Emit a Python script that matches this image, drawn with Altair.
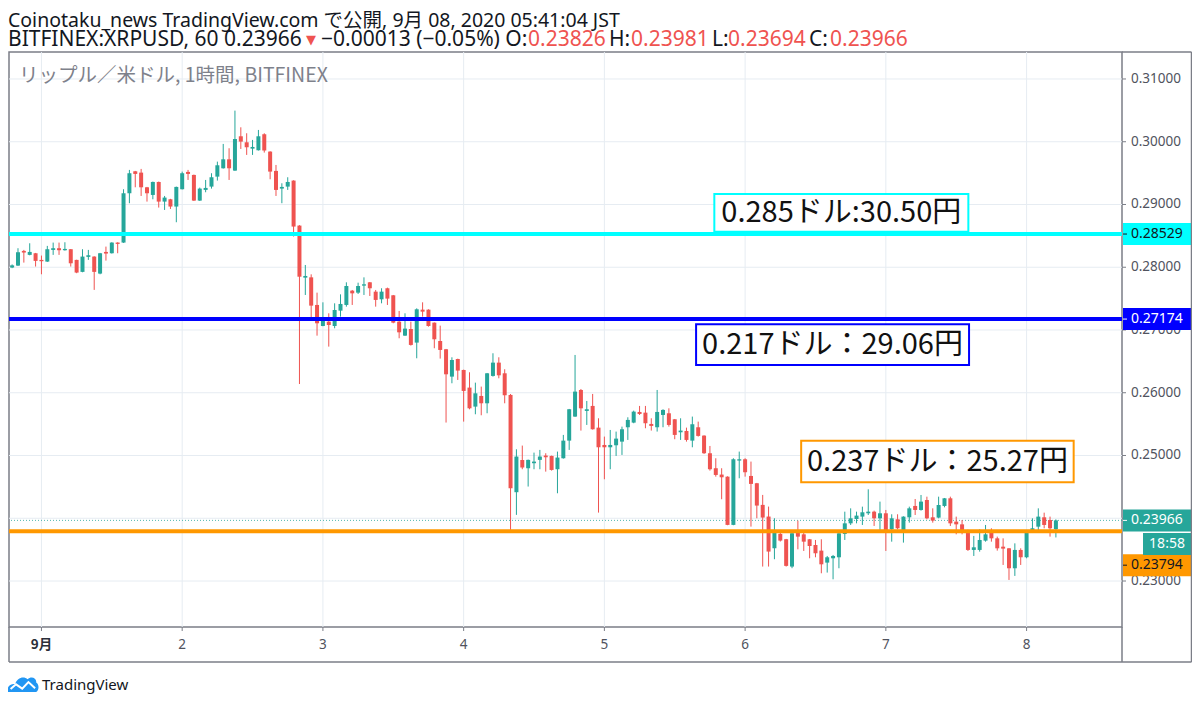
import altair as alt
import pandas as pd

# ---------------- data ----------------
# hourly candles, hours counted from 2020-09-01 00:00 JST
hours = list(range(-5, 174))

opens = [0.27995,0.28026,0.28260,0.28197,0.28223,0.28117,0.28090,0.28276,0.28303,0.28271,
0.28287,0.28117,0.27926,0.28165,0.28170,0.27899,0.28244,0.28223,0.28393,0.28393,
0.29179,0.29529,0.29508,0.29274,0.29152,0.29359,0.29046,0.29083,0.28967,0.29243,
0.29519,0.29471,0.29062,0.29232,0.29285,0.29444,0.29577,0.29720,0.29540,0.30087,
0.29991,0.29890,0.29864,0.30119,0.29843,0.29535,0.29253,0.29285,0.29381,0.28664,
0.27834,0.27839,0.27399,0.27064,0.27133,0.27064,0.27308,0.27399,0.27627,0.27595,
0.27707,0.27760,0.27611,0.27489,0.27665,0.27553,0.27133,0.26910,0.27016,0.26799,
0.27324,0.27324,0.27117,0.26825,0.26693,0.26257,0.26538,0.26363,0.26082,0.25779,
0.25949,0.25832,0.26268,0.26480,0.26310,0.25965,0.24415,0.24930,0.24797,0.24877,
0.24930,0.24999,0.24993,0.24781,0.24956,0.25237,0.25620,0.26044,0.25710,0.25790,
0.25444,0.25168,0.25131,0.25163,0.25221,0.25450,0.25524,0.25694,0.25683,0.25503,
0.25450,0.25646,0.25673,0.25577,0.25370,0.25391,0.25237,0.25450,0.25317,0.25036,
0.24797,0.24696,0.24663,0.23894,0.24919,0.24940,0.24674,0.24558,0.24213,0.24027,
0.23522,0.23751,0.23666,0.23230,0.23797,0.23744,0.23665,0.23574,0.23484,0.23293,
0.23362,0.23378,0.23750,0.23919,0.23988,0.24026,0.24079,0.24105,0.23999,0.24079,
0.23824,0.23983,0.23813,0.24015,0.24196,0.24132,0.24291,0.24015,0.24010,0.24196,
0.24318,0.23946,0.23903,0.23813,0.23495,0.23495,0.23643,0.23787,0.23680,0.23547,
0.23521,0.23203,0.23495,0.23378,0.23813,0.23866,0.24015,0.23972,0.23826]

highs = [0.28045,0.28303,0.28276,0.28382,0.28228,0.28186,0.28340,0.28393,0.28393,0.28398,
0.28290,0.28120,0.28287,0.28276,0.28175,0.28228,0.28329,0.28398,0.28398,0.29243,
0.29551,0.29535,0.29567,0.29280,0.29365,0.29365,0.29136,0.29090,0.29285,0.29524,
0.29551,0.29476,0.29269,0.29391,0.29498,0.29683,0.29965,0.29896,0.30496,0.30230,
0.30135,0.30029,0.30188,0.30135,0.29848,0.29630,0.29338,0.29434,0.29386,0.28670,
0.28036,0.27887,0.27595,0.27441,0.27266,0.27425,0.27568,0.27760,0.27638,0.27754,
0.27839,0.27765,0.27638,0.27665,0.27675,0.27558,0.27303,0.27266,0.27133,0.27345,
0.27441,0.27330,0.27120,0.27069,0.26698,0.26565,0.26543,0.26368,0.26326,0.26161,
0.26098,0.26315,0.26629,0.26565,0.26374,0.25980,0.25099,0.25158,0.24935,0.25046,
0.25089,0.25036,0.24998,0.25062,0.25328,0.25742,0.26602,0.26060,0.25869,0.25981,
0.25593,0.25301,0.25407,0.25381,0.25460,0.25609,0.25715,0.25790,0.25790,0.25593,
0.26044,0.25737,0.25752,0.25582,0.25593,0.25444,0.25620,0.25540,0.25322,0.25152,
0.24956,0.24797,0.24668,0.24956,0.25062,0.24956,0.24903,0.24563,0.24372,0.24186,
0.24000,0.23814,0.23671,0.23788,0.23962,0.23797,0.23670,0.23654,0.23665,0.23399,
0.23415,0.23765,0.24105,0.24158,0.24105,0.24185,0.24461,0.24121,0.24265,0.24132,
0.24063,0.24063,0.24031,0.24185,0.24307,0.24371,0.24344,0.24158,0.24344,0.24323,
0.24344,0.24026,0.23972,0.23818,0.23718,0.23824,0.23893,0.23840,0.23707,0.23680,
0.23526,0.23600,0.23521,0.23802,0.23999,0.24158,0.24089,0.24026,0.23981]

lows = [0.27985,0.28020,0.28074,0.28190,0.28011,0.27888,0.28085,0.28197,0.28197,0.28265,
0.28011,0.27905,0.27920,0.28117,0.27639,0.27888,0.28106,0.28218,0.28223,0.28388,
0.29020,0.29274,0.29136,0.29046,0.29083,0.28951,0.28913,0.28929,0.28717,0.29240,
0.29391,0.29056,0.29056,0.29195,0.29253,0.29381,0.29572,0.29391,0.29535,0.29885,
0.29790,0.29790,0.29860,0.29827,0.29402,0.29136,0.29020,0.29232,0.28489,0.26139,
0.27558,0.27186,0.26910,0.27060,0.26735,0.27027,0.27213,0.27372,0.27399,0.27574,
0.27558,0.27542,0.27372,0.27425,0.27399,0.27107,0.26868,0.26905,0.26751,0.26549,
0.27213,0.27053,0.26709,0.26544,0.25525,0.26151,0.26204,0.25540,0.25736,0.25657,
0.25641,0.25673,0.26257,0.26230,0.25832,0.23815,0.24054,0.24781,0.24505,0.24781,
0.24781,0.24743,0.24759,0.24398,0.24950,0.25089,0.25615,0.25397,0.25487,0.25413,
0.24090,0.24621,0.24781,0.24993,0.25009,0.25248,0.25514,0.25646,0.25434,0.25397,
0.25381,0.25450,0.25460,0.25259,0.25248,0.25221,0.25131,0.25301,0.25025,0.24759,
0.24663,0.24303,0.23889,0.23889,0.24637,0.24663,0.23867,0.24000,0.23230,0.23230,
0.23347,0.23629,0.23230,0.23204,0.23505,0.23479,0.23362,0.23378,0.23123,0.23134,
0.23027,0.23203,0.23654,0.23893,0.23919,0.23893,0.24052,0.23877,0.23813,0.23479,
0.23627,0.23824,0.23612,0.23930,0.24052,0.24121,0.23983,0.23930,0.23999,0.24174,
0.23877,0.23744,0.23744,0.23479,0.23399,0.23468,0.23627,0.23627,0.23484,0.23256,
0.23017,0.23081,0.23256,0.23362,0.23808,0.23787,0.23840,0.23707,0.23694]

closes = [0.28030,0.28239,0.28234,0.28244,0.28101,0.28096,0.28287,0.28303,0.28271,0.28292,
0.28063,0.27915,0.28170,0.28191,0.27926,0.28223,0.28218,0.28393,0.28372,0.29179,
0.29498,0.29487,0.29274,0.29179,0.29359,0.29046,0.29110,0.28967,0.29280,0.29498,
0.29487,0.29062,0.29253,0.29264,0.29434,0.29625,0.29720,0.29577,0.30044,0.30002,
0.29912,0.29917,0.30087,0.29859,0.29524,0.29232,0.29280,0.29359,0.28648,0.27849,
0.27861,0.27388,0.27107,0.27202,0.27080,0.27319,0.27415,0.27701,0.27584,0.27701,
0.27728,0.27665,0.27479,0.27611,0.27500,0.27117,0.26963,0.27022,0.26762,0.27330,
0.27292,0.27064,0.26852,0.26682,0.26294,0.26522,0.26353,0.26029,0.25752,0.25991,
0.25832,0.26310,0.26480,0.26278,0.25960,0.24478,0.24983,0.24808,0.24930,0.24903,
0.24983,0.24972,0.24770,0.24967,0.25237,0.25737,0.26018,0.25752,0.25737,0.25418,
0.25131,0.25131,0.25168,0.25269,0.25418,0.25567,0.25699,0.25662,0.25514,0.25471,
0.25694,0.25726,0.25487,0.25328,0.25397,0.25248,0.25498,0.25312,0.25036,0.24781,
0.24690,0.24653,0.23894,0.24940,0.24940,0.24733,0.24547,0.24202,0.24011,0.23469,
0.23814,0.23644,0.23241,0.23761,0.23707,0.23627,0.23558,0.23442,0.23266,0.23378,
0.23399,0.23760,0.23919,0.23999,0.24042,0.24095,0.24105,0.23999,0.24079,0.23787,
0.23999,0.23840,0.24026,0.24158,0.24132,0.24265,0.23999,0.23962,0.24211,0.24318,
0.23919,0.23903,0.23813,0.23495,0.23537,0.23654,0.23744,0.23680,0.23521,0.23516,
0.23203,0.23495,0.23378,0.23797,0.23840,0.24026,0.23893,0.23840,0.23966]

level_prices = [0.28529, 0.27174, 0.23794]
level_labels = ["0.285ドル:30.50円", "0.217ドル：29.06円", "0.237ドル：25.27円"]
last_price = 0.23966
price_ticks = [0.23, 0.24, 0.25, 0.26, 0.27, 0.28, 0.29, 0.30, 0.31]
day_ticks = [0, 24, 48, 72, 96, 120, 144, 168]
day_labels = ["9月", "2", "3", "4", "5", "6", "7", "8"]

# ---------------- styling ----------------
GREEN = "#26a69a"
RED = "#ef5350"
CYAN = "#00ffff"
BLUE = "#0000ff"
ORANGE = "#ff9800"
FRAME = "#7b7e87"
GRID = "#e6ecf2"
DARK = "#131722"
LABEL = "#50535e"
SANS = "Noto Sans, Noto Sans CJK JP, sans-serif"
CJK = "Noto Sans CJK JP, Noto Sans, sans-serif"
level_colors = [CYAN, BLUE, ORANGE]

W, H = 1113, 575
xs = alt.Scale(domain=[-4.68, 183.42], nice=False, zero=False)
ys = alt.Scale(domain=[0.22267, 0.31430], nice=False, zero=False)

df = pd.DataFrame({"h": hours, "o": opens, "hi": highs, "lo": lows, "c": closes})
one = pd.DataFrame({"k": [0]})
pt = pd.DataFrame({"p": price_ticks})
dt = pd.DataFrame({"d": day_ticks, "lab": day_labels})

color = alt.condition("datum.c >= datum.o", alt.value(GREEN), alt.value(RED))

def Y(field):
    return alt.Y(field, scale=ys, axis=None)

def X(field):
    return alt.X(field, scale=xs, axis=None)

layers = []

# grid, ticks and axis labels drawn through the chart scales
layers.append(alt.Chart(pt).mark_rule(color=GRID, strokeWidth=1).encode(y=Y("p:Q")))
layers.append(alt.Chart(dt).mark_rule(color=GRID, strokeWidth=1).encode(x=X("d:Q")))
layers.append(
    alt.Chart(pt).mark_rule(color=FRAME, strokeWidth=1).encode(
        x=alt.value(W), x2=alt.value(W + 4), y=Y("p:Q")
    )
)
layers.append(
    alt.Chart(pt).mark_text(align="left", baseline="middle", font=SANS, fontSize=13.5, color=LABEL).encode(
        x=alt.value(W + 9), y=Y("p:Q"), text=alt.Text("p:Q", format=".5f")
    )
)
layers.append(
    alt.Chart(dt).mark_rule(color=FRAME, strokeWidth=1).encode(
        x=X("d:Q"), y=alt.value(H), y2=alt.value(H + 4)
    )
)
layers.append(
    alt.Chart(dt).transform_filter("datum.d == 0").mark_text(
        align="center", baseline="middle", font=CJK, fontSize=13.5, fontWeight="bold", color="#2a2e39"
    ).encode(x=X("d:Q"), y=alt.value(H + 18), text="lab:N")
)
layers.append(
    alt.Chart(dt).transform_filter("datum.d != 0").mark_text(
        align="center", baseline="middle", font=SANS, fontSize=13.5, color=LABEL
    ).encode(x=X("d:Q"), y=alt.value(H + 18), text="lab:N")
)

# current price dotted line
layers.append(
    alt.Chart(pd.DataFrame({"p": [last_price]})).mark_rule(
        color=GREEN, strokeWidth=1, strokeDash=[1, 2], opacity=0.8
    ).encode(y=Y("p:Q"))
)

# candles
layers.append(
    alt.Chart(df).mark_rule(strokeWidth=1).encode(x=X("h:Q"), y=Y("lo:Q"), y2="hi:Q", color=color)
)
layers.append(
    alt.Chart(df).mark_bar(width=4).encode(x=X("h:Q"), y=Y("o:Q"), y2="c:Q", color=color)
)

# horizontal levels
lv = pd.DataFrame({"p": level_prices, "col": level_colors})
layers.append(
    alt.Chart(lv).mark_rule(strokeWidth=4).encode(y=Y("p:Q"), color=alt.Color("col:N", scale=None))
)

# annotation boxes (hour / price coordinates)
boxes = [
    (114.75, 158.07, 0.29167, 0.28567, 136.4, 0.28866, CYAN),
    (111.64, 158.19, 0.27091, 0.26442, 134.9, 0.26766, BLUE),
    (129.56, 176.03, 0.25236, 0.24573, 152.8, 0.24904, ORANGE),
]
for (x1, x2, y1, y2, xc, yc, col), lab in zip(boxes, level_labels):
    layers.append(
        alt.Chart(one).mark_rect(fill="white", stroke=col, strokeWidth=2).encode(
            x=alt.XDatum(x1, scale=xs, axis=None), x2=alt.X2Datum(x2),
            y=alt.YDatum(y1, scale=ys, axis=None), y2=alt.Y2Datum(y2),
        )
    )
    layers.append(
        alt.Chart(one).mark_text(
            text=lab, font=CJK, fontSize=29, color="#111111", align="center", baseline="middle"
        ).encode(x=alt.XDatum(xc, scale=xs, axis=None), y=alt.YDatum(yc, scale=ys, axis=None))
    )

# price tags on the right axis
tags = [
    (level_prices[0], CYAN, DARK, 0),
    (level_prices[1], BLUE, "white", 0),
    (last_price, GREEN, "white", 0),
    (level_prices[2], ORANGE, DARK, 34),
]
for p, bg, fg, off in tags:
    layers.append(
        alt.Chart(one).mark_rect(height=22, color=bg, yOffset=off).encode(
            x=alt.value(W + 1), x2=alt.value(W + 69), y=alt.YDatum(p, scale=ys, axis=None)
        )
    )
    layers.append(
        alt.Chart(one).mark_text(
            text=f"{p:.5f}", font=SANS, fontSize=14, color=fg, align="left",
            baseline="middle", yOffset=off,
        ).encode(x=alt.value(W + 9), y=alt.YDatum(p, scale=ys, axis=None))
    )
    layers.append(
        alt.Chart(one).mark_rule(color=fg, strokeWidth=1, yOffset=off).encode(
            x=alt.value(W + 1), x2=alt.value(W + 5), y=alt.YDatum(p, scale=ys, axis=None)
        )
    )
# countdown box under the last price tag
layers.append(
    alt.Chart(one).mark_rect(color=GREEN).encode(
        x=alt.value(W + 21), x2=alt.value(W + 69), y=alt.value(481), y2=alt.value(503)
    )
)
layers.append(
    alt.Chart(one).mark_text(
        text="18:58", font=SANS, fontSize=14, color="white", align="center", baseline="middle"
    ).encode(x=alt.value(W + 45), y=alt.value(492))
)

# outer frame of the TradingView panel
RX = W + 69.5
frame = [
    (W, RX, 0, 0),
    (RX, RX, 0, 610),
    (0, RX, 610, 610),
    (0, 0, H, 610),
    (W, W, H, 610),
]
for a, b, c, d in frame:
    layers.append(
        alt.Chart(one).mark_rule(color=FRAME, strokeWidth=1.5).encode(
            x=alt.value(a), x2=alt.value(b), y=alt.value(c), y2=alt.value(d)
        )
    )

def txt(s, x, y, size, color, font=SANS, weight="normal", align="left", baseline="alphabetic"):
    return alt.Chart(one).mark_text(
        text=s, font=font, fontSize=size, color=color, fontWeight=weight,
        align=align, baseline=baseline,
    ).encode(x=alt.value(x), y=alt.value(y))

# header lines (x in plot pixels = page x - 9)
layers.append(txt("Coinotaku_news TradingView.com で公開, 9月 08, 2020 05:41:04 JST", -1, -25.5, 19.5, DARK))
L2Y, L2F = -6.5, 21
layers.append(txt("BITFINEX:XRPUSD, 60 0.23966", -1, L2Y, L2F, DARK))
layers.append(txt("▼", 297, L2Y - 2, 13, RED, font="DejaVu Sans"))
layers.append(txt("−0.00013 (−0.05%) O:", 312, L2Y, L2F, DARK))
layers.append(txt("0.23826", 519, L2Y, L2F, RED))
layers.append(txt("H:", 600, L2Y, L2F, DARK))
layers.append(txt("0.23981", 622, L2Y, L2F, RED))
layers.append(txt("L:", 703, L2Y, L2F, DARK))
layers.append(txt("0.23694", 719, L2Y, L2F, RED))
layers.append(txt("C:", 800, L2Y, L2F, DARK))
layers.append(txt("0.23966", 821, L2Y, L2F, RED))

# watermark inside the pane
layers.append(txt("リップル／米ドル, 1時間, BITFINEX", 10, 30, 19.5, "#7e818b", font=CJK))

# TradingView logo
cloud = ("M -1,0.52 C -1.05,0.15 -0.8,-0.05 -0.5,0.0 C -0.4,-0.4 0.05,-0.55 0.3,-0.3 "
         "C 0.5,-0.55 0.9,-0.4 0.85,-0.1 C 1.05,0.0 1.05,0.4 0.85,0.52 Z")
zig = "M -0.8,0.33 L -0.45,0.02 L -0.05,0.3 L 0.35,-0.12 L 0.78,0.28"
layers.append(
    alt.Chart(one).mark_point(shape=cloud, size=961, filled=True, color="#2196f3", opacity=1).encode(
        x=alt.value(14), y=alt.value(632)
    )
)
layers.append(
    alt.Chart(one).mark_point(shape=zig, size=961, filled=False, color="white", strokeWidth=2, opacity=1).encode(
        x=alt.value(14), y=alt.value(632)
    )
)
layers.append(txt("TradingView", 33, 638, 15, DARK))

chart = alt.layer(*layers).properties(
    width=W,
    height=H,
    padding={"left": 1, "top": 44, "right": 70, "bottom": 68},
    autosize=alt.AutoSizeParams(type="none"),
    background="white",
).configure_view(stroke=FRAME, strokeWidth=1.5)

chart.save("out.html", embed_options={"renderer": "svg", "actions": False})
